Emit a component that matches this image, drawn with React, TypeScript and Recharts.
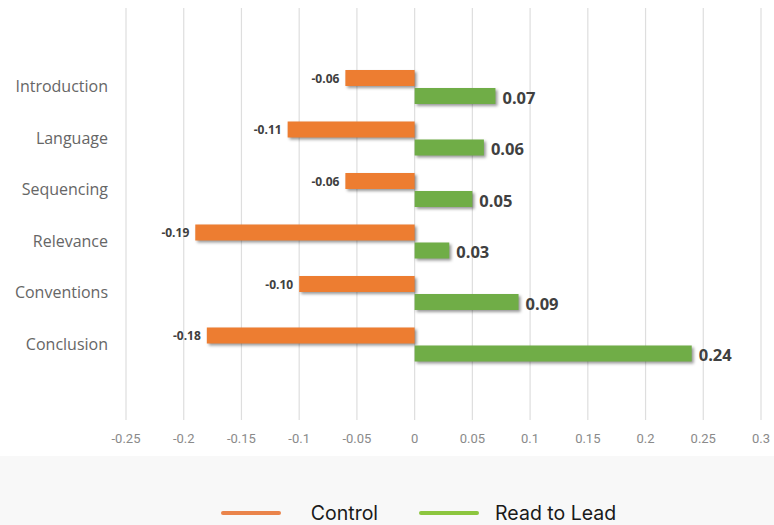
import React from 'react';
import { BarChart, Bar, XAxis, YAxis, CartesianGrid, Legend, LabelList } from 'recharts';

const categories = ['Introduction', 'Language', 'Sequencing', 'Relevance', 'Conventions', 'Conclusion'];
const controlValues = [-0.06, -0.11, -0.06, -0.19, -0.1, -0.18];
const readToLeadValues = [0.07, 0.06, 0.05, 0.03, 0.09, 0.24];
const xTicks = [-0.25, -0.2, -0.15, -0.1, -0.05, 0, 0.05, 0.1, 0.15, 0.2, 0.25, 0.3];

const data = categories.map((name, i) => ({
  name,
  control: controlValues[i],
  readToLead: readToLeadValues[i],
}));

const LABEL_FONT = "'Open Sans', 'DejaVu Sans', sans-serif";

const ControlLabel = (props: any) => {
  const { x, y, width, height, value } = props;
  const end = Math.min(x, x + width);
  return (
    <text
      x={end - 6}
      y={y + height / 2}
      textAnchor="end"
      dominantBaseline="central"
      fontFamily={LABEL_FONT}
      fontWeight={700}
      fontSize={12}
      fill="#404040"
    >
      {value.toFixed(2)}
    </text>
  );
};

const ReadLabel = (props: any) => {
  const { x, y, width, height, value } = props;
  const end = Math.max(x, x + width);
  return (
    <text
      x={end + 7}
      y={y + height / 2 + 1}
      textAnchor="start"
      dominantBaseline="central"
      fontFamily={LABEL_FONT}
      fontWeight={700}
      fontSize={16.5}
      fill="#404040"
    >
      {value.toFixed(2)}
    </text>
  );
};

const legendItems = [
  { label: 'Control', color: '#EA844B' },
  { label: 'Read to Lead', color: '#8DC63F' },
];

const LegendContent = () => (
  <div
    style={{
      display: 'flex',
      justifyContent: 'center',
      alignItems: 'center',
      height: 24,
      lineHeight: '24px',
      fontFamily: "'Inter', 'Lato', sans-serif",
      fontSize: 19.5,
      color: '#1a1a1a',
      paddingLeft: 76,
    }}
  >
    {legendItems.map((item, i) => (
      <div key={item.label} style={{ display: 'flex', alignItems: 'center', marginLeft: i ? 41 : 0 }}>
        <span
          style={{
            display: 'inline-block',
            width: 60,
            height: 4,
            borderRadius: 2,
            background: item.color,
            marginRight: i ? 16 : 30,
          }}
        />
        <span>{item.label}</span>
      </div>
    ))}
  </div>
);

export default function App() {
  return (
    <div style={{ position: 'fixed', left: 0, top: 0, width: 774, height: 525, background: '#ffffff', overflow: 'hidden' }}>
      <style>{`.recharts-bar-rectangle path { filter: drop-shadow(2px 2px 1.5px rgba(0,0,0,0.4)); }`}</style>
      <div style={{ position: 'absolute', left: 0, top: 456, width: 774, height: 69, background: '#f8f8f8' }} />
      <div style={{ position: 'absolute', left: 0, top: 0 }}>
        <BarChart
          width={774}
          height={525}
          data={data}
          layout="vertical"
          margin={{ top: 8, right: 13, left: 0, bottom: 0 }}
          barSize={16}
          barGap={2}
        >
          <CartesianGrid horizontal={false} stroke="#dedede" strokeWidth={1.2} />
          <XAxis
            type="number"
            domain={[-0.25, 0.3]}
            ticks={xTicks}
            interval={0}
            axisLine={false}
            tickLine={false}
            height={81}
            tickMargin={8}
            tick={{ fill: '#8a8a8a', fontSize: 13, fontFamily: "'Liberation Sans Narrow', 'Roboto', sans-serif" }}
          />
          <YAxis
            type="category"
            dataKey="name"
            width={126}
            axisLine={false}
            tickLine={false}
            padding={{ top: 53, bottom: 50 }}
            tickMargin={12}
            tick={{ fill: '#666666', fontSize: 16, fontFamily: LABEL_FONT }}
          />
          <Legend verticalAlign="bottom" height={24} content={<LegendContent />} />
          <Bar dataKey="control" name="Control" fill="#ED7D31" isAnimationActive={false}>
            <LabelList dataKey="control" content={<ControlLabel />} />
          </Bar>
          <Bar dataKey="readToLead" name="Read to Lead" fill="#70AD47" isAnimationActive={false}>
            <LabelList dataKey="readToLead" content={<ReadLabel />} />
          </Bar>
        </BarChart>
      </div>
    </div>
  );
}
